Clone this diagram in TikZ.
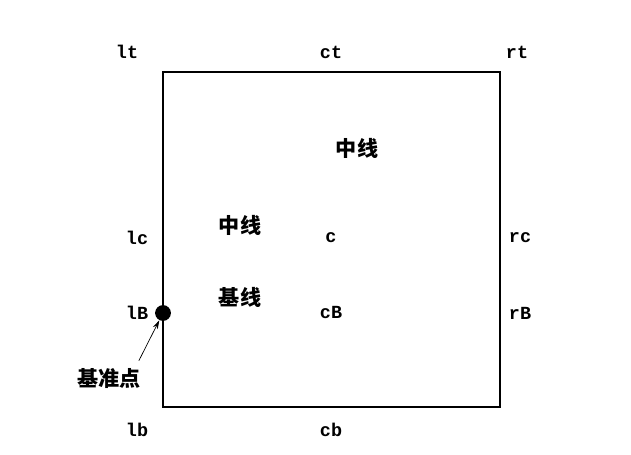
\documentclass[tikz,border=0pt]{standalone}
\usepackage{fontspec}
\setmonofont{Liberation Mono}
\newfontfamily\cjk{Noto Sans CJK SC}
\usetikzlibrary{arrows.meta}
\tikzset{
	lab/.style={font=\ttfamily\bfseries\fontsize{10.5}{12}\selectfont},
	hz/.style={font=\cjk\bfseries\fontsize{12}{14}\selectfont}
}
\begin{document}
\begin{tikzpicture}[x=0.02cm,y=-0.02cm]
			\useasboundingbox (0,0) rectangle (631,455);
			\draw[line width=1.1pt] (163,72) rectangle (500,407);
			\foreach \n/\x/\y in {lt/127/52,ct/331/52,rt/517/52,lc/137/238,c/331/238,rc/520/238,lB/137/313,cB/331/313,rB/520/313,lb/137/430,cb/331/430}
			\node[lab] (\n) at (\x,\y) {\n};
			\node[hz] (zx1) at (357,148) {中线};
			\node[hz] (zx2) at (240,225) {中线};
			\node[hz] (jx) at (240,297) {基线};
			\node[hz] (jzd) at (109,379) {基准点};
			\node[circle,fill,inner sep=0pt,minimum size=9pt] (dot) at (163,313) {};
			\draw[-{Stealth[length=5pt,width=3pt]},thin] (jzd.north east) ++(-8,-2) -- (dot);
		\end{tikzpicture}
\end{document}
